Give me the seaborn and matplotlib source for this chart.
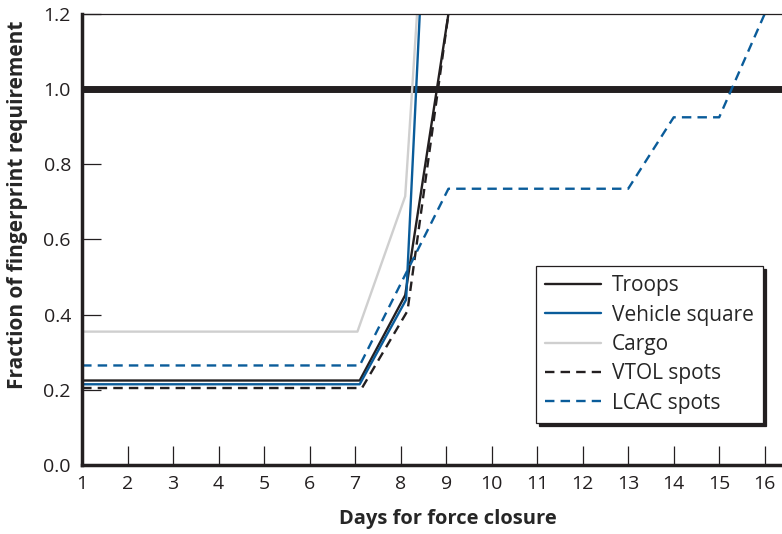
import pandas as pd
import matplotlib
matplotlib.use("Agg")
import matplotlib.pyplot as plt
import seaborn as sns

# data
troops_days = [1, 7.1, 8.1, 9.05]
troops = [0.225, 0.225, 0.452, 1.2]
vehicle_days = [1, 7.1, 8.12, 8.42]
vehicle = [0.215, 0.215, 0.44, 1.2]
cargo_days = [1, 7.05, 8.1, 8.36]
cargo = [0.355, 0.355, 0.715, 1.2]
vtol_days = [1, 7.15, 8.15, 9.05]
vtol = [0.205, 0.205, 0.41, 1.2]
lcac_days = [1, 7.1, 9.05, 13.0, 14.0, 15.0, 16.0]
lcac = [0.265, 0.265, 0.735, 0.735, 0.925, 0.925, 1.2]
requirement = 1.0

series = [
    ("Troops", troops_days, troops, "#231f20", None),
    ("Vehicle square", vehicle_days, vehicle, "#0a5c9a", None),
    ("Cargo", cargo_days, cargo, "#cfcfcf", None),
    ("VTOL spots", vtol_days, vtol, "#231f20", (4, 2.6)),
    ("LCAC spots", lcac_days, lcac, "#0a5c9a", (4, 2.6)),
]

sns.set_style("ticks")
plt.rcParams["font.family"] = ["Open Sans", "DejaVu Sans"]

fig = plt.figure(figsize=(7.82, 5.34), dpi=100)
ax = fig.add_axes([0.105, 0.129, 0.895, 0.845])

# required level
ax.axhline(requirement, color="#231f20", lw=5, zorder=1)

for name, xs, ys, col, dash in series:
    df = pd.DataFrame({"days": xs, "frac": ys})
    line = sns.lineplot(data=df, x="days", y="frac", ax=ax, color=col, lw=1.7,
                        label=name, estimator=None, sort=False)
    if dash is not None:
        line.lines[-1].set_dashes(dash)

ax.set_xlim(1, 16.38)
ax.set_ylim(0, 1.2)
ax.set_xticks(range(1, 17))
ax.set_yticks([0, 0.2, 0.4, 0.6, 0.8, 1.0, 1.2])
ax.set_yticklabels(["0.0", "0.2", "0.4", "0.6", "0.8", "1.0", "1.2"])
ax.tick_params(direction="in", length=14, width=0.9, color="#231f20",
               labelsize=14, labelcolor="#231f20")
ax.tick_params(axis="x", pad=7)
ax.tick_params(axis="y", pad=8)

ax.spines["right"].set_visible(False)
ax.spines["left"].set_linewidth(2.5)
ax.spines["bottom"].set_linewidth(2.5)
ax.spines["top"].set_linewidth(0.9)
for s in ax.spines.values():
    s.set_color("#231f20")

ax.set_xlabel("Days for force closure", fontsize=14.5, fontweight="bold")
ax.set_ylabel("Fraction of fingerprint requirement", fontsize=15, fontweight="bold")
ax.xaxis.set_label_coords(0.523, -0.098)
ax.yaxis.set_label_coords(-0.078, 0.576)

leg = ax.legend(loc="lower right", bbox_to_anchor=(0.973, 0.093), borderaxespad=0,
                fontsize=15, frameon=True, fancybox=False, handlelength=2.7,
                labelspacing=0.4, borderpad=0.45, handletextpad=0.5,
                shadow={"color": "#231f20", "alpha": 1.0, "ox": 2.2, "oy": -2.2})
leg.get_frame().set_edgecolor("#231f20")
leg.get_frame().set_linewidth(0.9)
leg.get_frame().set_alpha(1.0)
for h, (_, _, _, col, dash) in zip(leg.get_lines(), series):
    if dash is not None:
        h.set_dashes(dash)

fig.savefig("out.png", dpi=100)
